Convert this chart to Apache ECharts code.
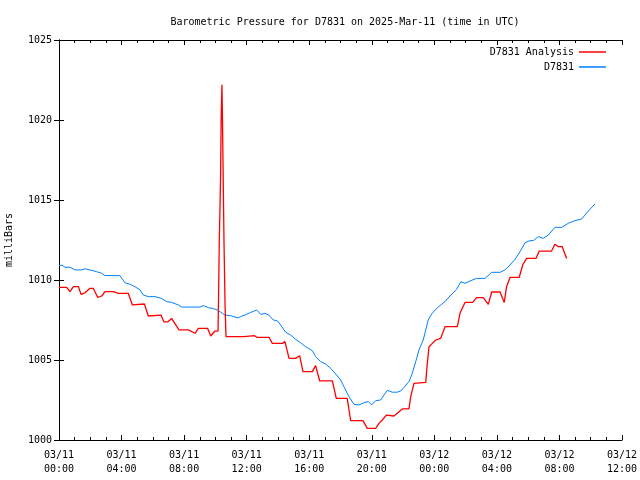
<!DOCTYPE html>
<html>
<head>
<meta charset="utf-8">
<script src="https://cdn.jsdelivr.net/npm/echarts@6/dist/echarts.min.js"></script>
<style>html,body{margin:0;padding:0;background:#fff}#c{width:640px;height:480px}</style>
</head>
<body>
<div id="c"></div>
<script>
// hours since 03/11 00:00 UTC
var blueTimes = [0,0.2,0.38,0.7,1.02,1.45,1.66,2.09,2.41,2.73,2.94,3.9,4.0,4.22,4.54,4.86,5.18,5.39,5.71,6.14,6.56,6.88,7.2,7.63,7.84,9.02,9.23,9.55,9.8,10.12,10.44,10.61,10.97,11.44,11.6,11.9,12.26,12.42,12.64,12.9,13.17,13.43,13.7,13.96,14.17,14.5,14.81,15.13,15.45,15.77,16.2,16.41,16.73,17.05,17.37,17.69,18.01,18.22,18.54,18.86,19.18,19.5,19.78,19.99,20.25,20.57,20.78,20.99,21.31,21.63,21.85,22.06,22.38,22.59,22.81,23.02,23.29,23.61,23.83,24.15,24.47,24.68,25.0,25.43,25.7,25.96,26.28,26.7,27.24,27.67,28.2,28.52,28.84,29.16,29.48,29.8,30.12,30.33,30.65,30.97,31.29,31.71,32.14,32.56,32.99,33.42,33.63,33.95,34.27];
var blueValues = [1010.9,1010.92,1010.8,1010.8,1010.63,1010.63,1010.7,1010.6,1010.52,1010.42,1010.28,1010.27,1010.2,1009.83,1009.73,1009.58,1009.38,1009.06,1008.96,1008.96,1008.85,1008.65,1008.6,1008.44,1008.31,1008.31,1008.4,1008.27,1008.23,1008.13,1007.92,1007.81,1007.77,1007.63,1007.71,1007.81,1007.98,1008.03,1008.13,1007.85,1007.92,1007.8,1007.5,1007.45,1007.19,1006.73,1006.56,1006.29,1006.08,1005.83,1005.58,1005.21,1004.9,1004.75,1004.48,1004.13,1003.75,1003.33,1002.71,1002.23,1002.19,1002.33,1002.4,1002.19,1002.46,1002.5,1002.81,1003.1,1002.99,1002.99,1003.06,1003.29,1003.65,1004.17,1004.9,1005.63,1006.25,1007.5,1007.88,1008.23,1008.48,1008.65,1009.0,1009.42,1009.9,1009.79,1009.94,1010.1,1010.1,1010.48,1010.48,1010.63,1010.94,1011.29,1011.77,1012.33,1012.46,1012.46,1012.71,1012.6,1012.81,1013.29,1013.29,1013.54,1013.71,1013.81,1014.06,1014.42,1014.75];
var redTimes = [0,0.49,0.7,0.92,1.24,1.41,1.66,1.98,2.19,2.47,2.73,2.94,3.47,3.79,4.43,4.69,5.46,5.71,6.52,6.71,6.95,7.2,7.67,8.27,8.7,8.91,9.5,9.7,9.97,10.17,10.2,10.25,10.33,10.37,10.42,10.45,10.5,10.55,10.62,10.68,11.83,11.9,12.5,12.65,13.43,13.64,14.28,14.45,14.71,15.13,15.39,15.6,16.2,16.41,16.67,17.48,17.73,18.43,18.65,19.44,19.71,20.25,20.46,20.67,20.93,21.42,21.74,21.95,22.38,22.49,22.7,23.45,23.55,23.66,23.87,24.09,24.4,24.62,24.68,25.47,25.64,25.96,26.45,26.7,27.13,27.45,27.67,28.2,28.47,28.62,28.84,29.43,29.65,29.9,30.5,30.71,31.5,31.71,31.93,32.18,32.46];
var redValues = [1009.54,1009.54,1009.27,1009.58,1009.58,1009.1,1009.2,1009.48,1009.48,1008.92,1009.0,1009.27,1009.27,1009.17,1009.17,1008.44,1008.5,1007.75,1007.81,1007.38,1007.38,1007.6,1006.88,1006.88,1006.67,1006.98,1006.98,1006.5,1006.81,1006.81,1008.75,1012.4,1016.35,1020.2,1022.2,1020.2,1016.35,1012.4,1008.33,1006.46,1006.46,1006.52,1006.52,1006.42,1006.42,1006.04,1006.04,1006.15,1005.1,1005.1,1005.27,1004.27,1004.27,1004.65,1003.69,1003.69,1002.6,1002.6,1001.21,1001.21,1000.73,1000.73,1001.04,1001.25,1001.56,1001.5,1001.77,1001.94,1001.94,1002.71,1003.54,1003.6,1004.79,1005.83,1006.04,1006.25,1006.35,1006.9,1007.08,1007.08,1007.92,1008.6,1008.6,1008.9,1008.9,1008.48,1009.25,1009.25,1008.6,1009.58,1010.17,1010.17,1010.94,1011.35,1011.35,1011.81,1011.81,1012.23,1012.08,1012.08,1011.35];
var xTickDays = ['03/11','03/11','03/11','03/11','03/11','03/11','03/12','03/12','03/12','03/12'];
var xTickTimes = ['00:00','04:00','08:00','12:00','16:00','20:00','00:00','04:00','08:00','12:00'];

function zip(t, v){ var o=[]; for(var i=0;i<t.length;i++) o.push([t[i], v[i]]); return o; }
var FONT = 'DejaVu Sans Mono';
var chart = echarts.init(document.getElementById('c'), null, {renderer:'canvas'});
var xBase = {
  type:'value', min:0, max:36, interval:4,
  axisLine:{show:true, lineStyle:{color:'#000', width:1}},
  axisTick:{show:true, inside:true, length:5, lineStyle:{color:'#000'}},
  minorTick:{show:true, splitNumber:4, length:3, lineStyle:{color:'#000'}},
  splitLine:{show:false}
};
var yBase = {
  type:'value', min:1000, max:1025, interval:5,
  axisLine:{show:true, lineStyle:{color:'#000', width:1}},
  axisTick:{show:true, inside:true, length:5, lineStyle:{color:'#000'}},
  splitLine:{show:false}
};
chart.setOption({
  animation:false,
  backgroundColor:'#fff',
  title:{text:'Barometric Pressure for D7831 on 2025-Mar-11 (time in UTC)', left:340, top:12, textAlign:'center',
    textStyle:{fontFamily:FONT, fontSize:10, fontWeight:'normal', color:'#000'}},
  grid:{left:59, right:18, top:40, bottom:40, containLabel:false, outerBoundsMode:'none'},
  legend:[
    {data:['D7831 Analysis'], right:29, top:42, align:'right', icon:'rect', itemWidth:27, itemHeight:1.5,
     textStyle:{fontFamily:FONT, fontSize:10, color:'#000'}},
    {data:['D7831'], right:29, top:57, align:'right', icon:'rect', itemWidth:27, itemHeight:1.5,
     textStyle:{fontFamily:FONT, fontSize:10, color:'#000'}}
  ],
  xAxis:[
    Object.assign({}, xBase, {position:'bottom',
      axisLabel:{show:true, margin:8, fontFamily:FONT, fontSize:10, color:'#000', lineHeight:14, hideOverlap:false,
        formatter:function(v){ var i=Math.round(v/4); return xTickDays[i]+'\n'+xTickTimes[i]; }}}),
    Object.assign({}, xBase, {position:'top', axisLabel:{show:false}})
  ],
  yAxis:[
    Object.assign({}, yBase, {position:'left', name:'milliBars', nameLocation:'middle', nameRotate:90, nameGap:45,
      nameTextStyle:{fontFamily:FONT, fontSize:10, color:'#000'},
      axisLabel:{show:true, margin:7, fontFamily:FONT, fontSize:10, color:'#000', formatter:function(v){return String(v);}}}),
    Object.assign({}, yBase, {position:'right', axisLabel:{show:false}})
  ],
  series:[
    {name:'D7831 Analysis', type:'line', data:zip(redTimes, redValues), showSymbol:false, symbol:'none',
     lineStyle:{color:'#ff0000', width:1.3}, itemStyle:{color:'#ff0000'}, z:3},
    {name:'D7831', type:'line', data:zip(blueTimes, blueValues), showSymbol:false, symbol:'none',
     lineStyle:{color:'#0080ff', width:1}, itemStyle:{color:'#0080ff'}, z:2}
  ]
});
</script>
</body>
</html>
